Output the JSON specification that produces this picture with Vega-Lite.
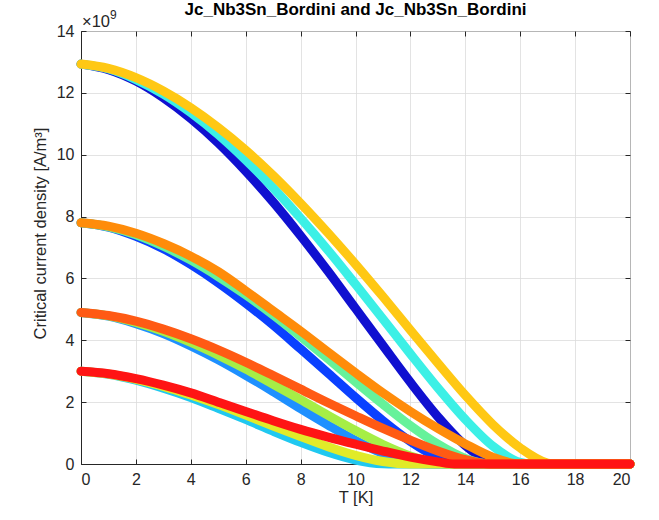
{
"$schema":"https://vega.github.io/schema/vega-lite/v6.json",
"width":549,"height":433,
"autosize":{"type":"none"},
"padding":{"left":81,"top":31,"right":29,"bottom":56},
"background":"white",
"title":{"text":"Jc_Nb3Sn_Bordini and Jc_Nb3Sn_Bordini","font":"Liberation Sans","fontSize":17,"fontWeight":"bold","color":"#000000","anchor":"middle","offset":-10},
"config":{"view":{"stroke":"#262626","strokeWidth":1},"font":"Liberation Sans"},
"layer":[
{"data":{"values":[
{"c":"c01","T":0,"J":12.93},{"c":"c01","T":1,"J":12.75},{"c":"c01","T":2,"J":12.38},{"c":"c01","T":3,"J":11.84},{"c":"c01","T":4,"J":11.17},{"c":"c01","T":5,"J":10.38},{"c":"c01","T":6,"J":9.47},{"c":"c01","T":7,"J":8.47},{"c":"c01","T":8,"J":7.38},{"c":"c01","T":9,"J":6.23},{"c":"c01","T":10,"J":5.03},{"c":"c01","T":11,"J":3.83},{"c":"c01","T":12,"J":2.64},{"c":"c01","T":13,"J":1.53},{"c":"c01","T":14,"J":0.6},{"c":"c01","T":15,"J":0.04},{"c":"c01","T":15.28,"J":0},{"c":"c01","T":20,"J":0},
{"c":"c02","T":0,"J":7.8},{"c":"c02","T":1,"J":7.66},{"c":"c02","T":2,"J":7.36},{"c":"c02","T":3,"J":6.96},{"c":"c02","T":4,"J":6.45},{"c":"c02","T":5,"J":5.86},{"c":"c02","T":6,"J":5.2},{"c":"c02","T":7,"J":4.49},{"c":"c02","T":8,"J":3.72},{"c":"c02","T":9,"J":2.94},{"c":"c02","T":10,"J":2.15},{"c":"c02","T":11,"J":1.4},{"c":"c02","T":12,"J":0.73},{"c":"c02","T":13,"J":0.22},{"c":"c02","T":13.99,"J":0},{"c":"c02","T":20,"J":0},
{"c":"c03","T":0,"J":4.9},{"c":"c03","T":1,"J":4.78},{"c":"c03","T":2,"J":4.54},{"c":"c03","T":3,"J":4.22},{"c":"c03","T":4,"J":3.82},{"c":"c03","T":5,"J":3.37},{"c":"c03","T":6,"J":2.87},{"c":"c03","T":7,"J":2.34},{"c":"c03","T":8,"J":1.79},{"c":"c03","T":9,"J":1.26},{"c":"c03","T":10,"J":0.76},{"c":"c03","T":11,"J":0.34},{"c":"c03","T":12,"J":0.06},{"c":"c03","T":12.64,"J":0},{"c":"c03","T":20,"J":0},
{"c":"c04","T":0,"J":3.0},{"c":"c04","T":1,"J":2.9},{"c":"c04","T":2,"J":2.71},{"c":"c04","T":3,"J":2.45},{"c":"c04","T":4,"J":2.15},{"c":"c04","T":5,"J":1.8},{"c":"c04","T":6,"J":1.44},{"c":"c04","T":7,"J":1.06},{"c":"c04","T":8,"J":0.7},{"c":"c04","T":9,"J":0.38},{"c":"c04","T":10,"J":0.13},{"c":"c04","T":11,"J":0.005},{"c":"c04","T":11.21,"J":0},{"c":"c04","T":20,"J":0},
{"c":"c05","T":0,"J":12.93},{"c":"c05","T":1,"J":12.77},{"c":"c05","T":2,"J":12.43},{"c":"c05","T":3,"J":11.96},{"c":"c05","T":4,"J":11.36},{"c":"c05","T":5,"J":10.65},{"c":"c05","T":6,"J":9.83},{"c":"c05","T":7,"J":8.93},{"c":"c05","T":8,"J":7.95},{"c":"c05","T":9,"J":6.91},{"c":"c05","T":10,"J":5.81},{"c":"c05","T":11,"J":4.69},{"c":"c05","T":12,"J":3.56},{"c":"c05","T":13,"J":2.46},{"c":"c05","T":14,"J":1.44},{"c":"c05","T":15,"J":0.58},{"c":"c05","T":16,"J":0.05},{"c":"c05","T":16.34,"J":0},{"c":"c05","T":20,"J":0},
{"c":"c06","T":0,"J":7.8},{"c":"c06","T":1,"J":7.67},{"c":"c06","T":2,"J":7.41},{"c":"c06","T":3,"J":7.04},{"c":"c06","T":4,"J":6.59},{"c":"c06","T":5,"J":6.06},{"c":"c06","T":6,"J":5.47},{"c":"c06","T":7,"J":4.82},{"c":"c06","T":8,"J":4.12},{"c":"c06","T":9,"J":3.4},{"c":"c06","T":10,"J":2.66},{"c":"c06","T":11,"J":1.93},{"c":"c06","T":12,"J":1.24},{"c":"c06","T":13,"J":0.64},{"c":"c06","T":14,"J":0.18},{"c":"c06","T":14.96,"J":0},{"c":"c06","T":20,"J":0},
{"c":"c07","T":0,"J":4.9},{"c":"c07","T":1,"J":4.79},{"c":"c07","T":2,"J":4.58},{"c":"c07","T":3,"J":4.29},{"c":"c07","T":4,"J":3.93},{"c":"c07","T":5,"J":3.52},{"c":"c07","T":6,"J":3.07},{"c":"c07","T":7,"J":2.58},{"c":"c07","T":8,"J":2.08},{"c":"c07","T":9,"J":1.57},{"c":"c07","T":10,"J":1.08},{"c":"c07","T":11,"J":0.63},{"c":"c07","T":12,"J":0.26},{"c":"c07","T":13,"J":0.04},{"c":"c07","T":13.52,"J":0},{"c":"c07","T":20,"J":0},
{"c":"c08","T":0,"J":3.0},{"c":"c08","T":1,"J":2.91},{"c":"c08","T":2,"J":2.74},{"c":"c08","T":3,"J":2.51},{"c":"c08","T":4,"J":2.23},{"c":"c08","T":5,"J":1.92},{"c":"c08","T":6,"J":1.58},{"c":"c08","T":7,"J":1.23},{"c":"c08","T":8,"J":0.89},{"c":"c08","T":9,"J":0.56},{"c":"c08","T":10,"J":0.28},{"c":"c08","T":11,"J":0.08},{"c":"c08","T":11.99,"J":0},{"c":"c08","T":20,"J":0},
{"c":"c09","T":0,"J":12.93},{"c":"c09","T":1,"J":12.79},{"c":"c09","T":2,"J":12.49},{"c":"c09","T":3,"J":12.06},{"c":"c09","T":4,"J":11.52},{"c":"c09","T":5,"J":10.88},{"c":"c09","T":6,"J":10.15},{"c":"c09","T":7,"J":9.33},{"c":"c09","T":8,"J":8.43},{"c":"c09","T":9,"J":7.47},{"c":"c09","T":10,"J":6.46},{"c":"c09","T":11,"J":5.41},{"c":"c09","T":12,"J":4.33},{"c":"c09","T":13,"J":3.26},{"c":"c09","T":14,"J":2.22},{"c":"c09","T":15,"J":1.28},{"c":"c09","T":16,"J":0.52},{"c":"c09","T":17,"J":0.03},{"c":"c09","T":17.25,"J":0},{"c":"c09","T":20,"J":0},
{"c":"c10","T":0,"J":7.8},{"c":"c10","T":1,"J":7.69},{"c":"c10","T":2,"J":7.46},{"c":"c10","T":3,"J":7.13},{"c":"c10","T":4,"J":6.72},{"c":"c10","T":5,"J":6.22},{"c":"c10","T":6,"J":5.6},{"c":"c10","T":7,"J":4.95},{"c":"c10","T":8,"J":4.3},{"c":"c10","T":9,"J":3.62},{"c":"c10","T":10,"J":2.95},{"c":"c10","T":11,"J":2.3},{"c":"c10","T":12,"J":1.7},{"c":"c10","T":13,"J":1.15},{"c":"c10","T":14,"J":0.65},{"c":"c10","T":15,"J":0.22},{"c":"c10","T":16,"J":0},{"c":"c10","T":20,"J":0},
{"c":"c11","T":0,"J":4.9},{"c":"c11","T":1,"J":4.8},{"c":"c11","T":2,"J":4.62},{"c":"c11","T":3,"J":4.36},{"c":"c11","T":4,"J":4.05},{"c":"c11","T":5,"J":3.69},{"c":"c11","T":6,"J":3.29},{"c":"c11","T":7,"J":2.86},{"c":"c11","T":8,"J":2.42},{"c":"c11","T":9,"J":1.98},{"c":"c11","T":10,"J":1.56},{"c":"c11","T":11,"J":1.15},{"c":"c11","T":12,"J":0.77},{"c":"c11","T":13,"J":0.42},{"c":"c11","T":14,"J":0.14},{"c":"c11","T":14.9,"J":0},{"c":"c11","T":20,"J":0},
{"c":"c12","T":0,"J":3.0},{"c":"c12","T":1,"J":2.92},{"c":"c12","T":2,"J":2.76},{"c":"c12","T":3,"J":2.55},{"c":"c12","T":4,"J":2.3},{"c":"c12","T":5,"J":2.0},{"c":"c12","T":6,"J":1.7},{"c":"c12","T":7,"J":1.4},{"c":"c12","T":8,"J":1.12},{"c":"c12","T":9,"J":0.87},{"c":"c12","T":10,"J":0.64},{"c":"c12","T":11,"J":0.42},{"c":"c12","T":12,"J":0.22},{"c":"c12","T":13,"J":0.07},{"c":"c12","T":13.6,"J":0},{"c":"c12","T":20,"J":0}
]},
"mark":{"type":"line","strokeWidth":9,"strokeCap":"round","strokeJoin":"round","interpolate":"monotone","clip":false},
"encoding":{
"x":{"field":"T","type":"quantitative","scale":{"domain":[0,20],"nice":false,"zero":false},
"axis":{"values":[0,2,4,6,8,10,12,14,16,18,20],"grid":true,"gridColor":"#dcdcdc","gridWidth":0.8,"domainColor":"#262626","tickColor":"#262626","tickSize":-5,"labelFont":"Liberation Sans","labelFontSize":16,"labelColor":"#262626","labelPadding":12,"title":"T [K]","titleFont":"Liberation Sans","titleFontSize":16.5,"titleFontWeight":"normal","titleColor":"#262626","titlePadding":2}},
"y":{"field":"J","type":"quantitative","scale":{"domain":[0,14],"nice":false},
"axis":{"values":[0,2,4,6,8,10,12,14],"grid":true,"gridColor":"#dcdcdc","gridWidth":0.8,"domainColor":"#262626","tickColor":"#262626","tickSize":-5,"labelFont":"Liberation Sans","labelFontSize":16,"labelColor":"#262626","labelPadding":12,"title":"Critical current density [A/m³]","titleFont":"Liberation Sans","titleFontSize":16.5,"titleFontWeight":"normal","titleColor":"#262626","titlePadding":8,"titleY":202}},
"color":{"field":"c","type":"nominal","legend":null,
"scale":{"domain":["c01","c02","c03","c04","c05","c06","c07","c08","c09","c10","c11","c12"],
"range":["#1010D0","#0A40FF","#1E90FF","#20C8F0","#3CF0E6","#66F29A","#A6EE46","#E1EB28","#FFC814","#FF8C0A","#FF5A14","#FF1414"]}}
}},
{"data":{"values":[{"T":0,"J":0}]},
"mark":{"type":"point","opacity":0},
"encoding":{
"x":{"field":"T","type":"quantitative","axis":{"orient":"top","values":[0,2,4,6,8,10,12,14,16,18,20],"labels":false,"grid":false,"domain":false,"tickColor":"#262626","tickSize":-5,"title":null}},
"y":{"field":"J","type":"quantitative","axis":{"orient":"right","values":[0,2,4,6,8,10,12,14],"labels":false,"grid":false,"domain":false,"tickColor":"#262626","tickSize":-5,"title":null}}
}},
{"data":{"values":[{}]},
"mark":{"type":"text","align":"left","baseline":"alphabetic","dx":1,"dy":-4,"fontSize":16.5,"font":"Liberation Sans","color":"#262626"},
"encoding":{
"x":{"datum":0,"type":"quantitative","axis":null},
"y":{"datum":14,"type":"quantitative","axis":null},
"text":{"value":"×10"}
}},
{"data":{"values":[{}]},
"mark":{"type":"text","align":"left","baseline":"alphabetic","dx":29,"dy":-12,"fontSize":12,"font":"Liberation Sans","color":"#262626"},
"encoding":{
"x":{"datum":0,"type":"quantitative","axis":null},
"y":{"datum":14,"type":"quantitative","axis":null},
"text":{"value":"9"}
}}
],
"resolve":{"axis":{"x":"independent","y":"independent"}}
}
